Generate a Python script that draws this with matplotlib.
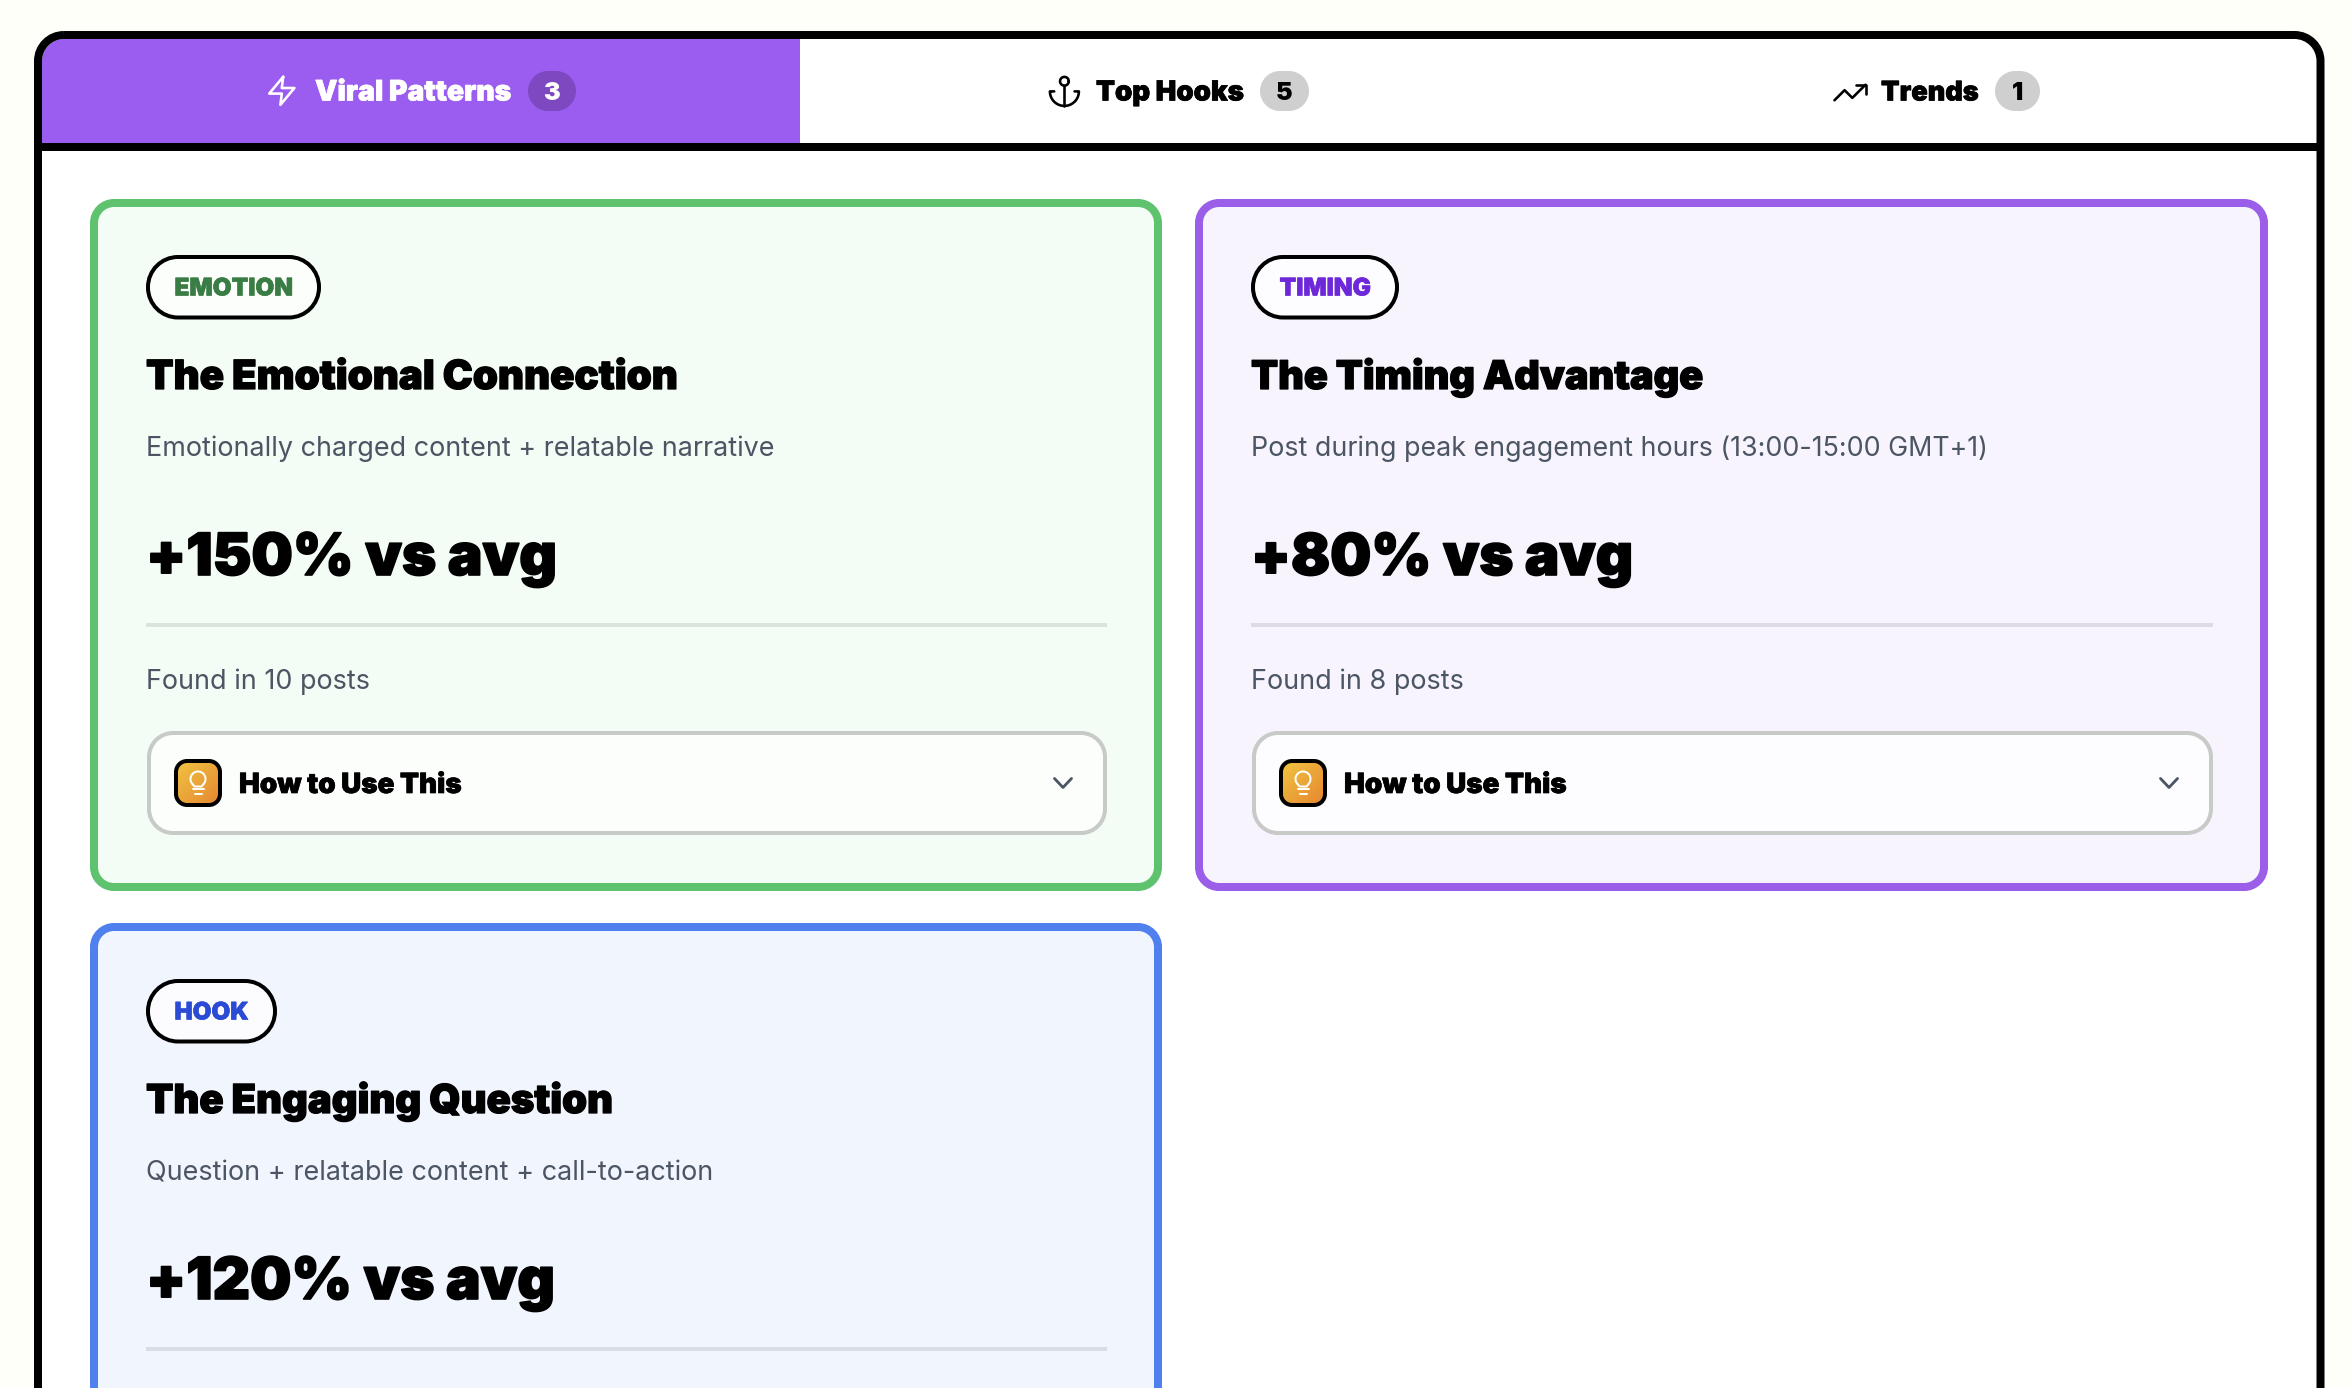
import numpy as np
from matplotlib import pyplot as plt
from matplotlib.patches import PathPatch, Rectangle
from matplotlib.path import Path
from matplotlib.colors import LinearSegmentedColormap
import matplotlib.patheffects as pe

# tabs
tab_names = ["Viral Patterns", "Top Hooks", "Trends"]
tab_counts = ["3", "5", "1"]

# cards
card_tags = ["EMOTION", "TIMING", "HOOK"]
card_titles = ["The Emotional Connection", "The Timing Advantage", "The Engaging Question"]
card_descs = [
    "Emotionally charged content + relatable narrative",
    "Post during peak engagement hours (13:00-15:00 GMT+1)",
    "Question + relatable content + call-to-action",
]
card_metrics = ["+150% vs avg", "+80% vs avg", "+120% vs avg"]
# third card runs off the bottom of the picture before this line
card_found = ["Found in 10 posts", "Found in 8 posts"]

# layout, in pixels of the 2352x1388 picture
tab_text_x = [(315, 512), (1096, 1244), (1881, 1979)]
tab_badge_x = [(528, 576), (1260, 1309), (1995, 2040)]
card_boxes = [(90, 199, 1162, 891), (1195, 199, 2268, 891), (90, 923, 1162, 1615)]
tag_widths = [175, 148, 131]
tag_text_widths = [118, 91, 74]
tag_colors = ["#3a7d44", "#6d28d9", "#2b4bd4"]
title_widths = [533, 453, 468]
desc_widths = [627, 736, 566]
metric_widths = [411, 382, 409]
found_widths = [224, 213]
border_colors = ["#5fc26f", "#9b5ee8", "#4f80ee"]
fill_colors = ["#f3fdf5", "#f7f4fd", "#f1f5fe"]

PX = 0.72  # points per pixel at dpi 100
HEAVY = dict(family=["Inter", "Roboto", "DejaVu Sans"], weight="black")
BODY = dict(family=["Inter", "DejaVu Sans"], weight="normal")
GLASS = (1, 1, 1, 0.8)

fig = plt.figure(figsize=(23.52, 13.88), dpi=100, facecolor="#fffffa")
ax = fig.add_axes([0, 0, 1, 1])
ax.set_xlim(0, 2352)
ax.set_ylim(1388, 0)
ax.axis("off")
renderer = fig.canvas.get_renderer()


def rounded(x0, y0, x1, y1, r, fc, ec="none", lw=0, z=1):
    # circular corners, FancyBboxPatch round comes out too square
    c = r * 0.4477
    verts = [(x0 + r, y0), (x1 - r, y0), (x1 - c, y0), (x1, y0 + c), (x1, y0 + r),
             (x1, y1 - r), (x1, y1 - c), (x1 - c, y1), (x1 - r, y1),
             (x0 + r, y1), (x0 + c, y1), (x0, y1 - c), (x0, y1 - r),
             (x0, y0 + r), (x0, y0 + c), (x0 + c, y0), (x0 + r, y0), (x0 + r, y0)]
    codes = [Path.MOVETO, Path.LINETO, Path.CURVE4, Path.CURVE4, Path.CURVE4,
             Path.LINETO, Path.CURVE4, Path.CURVE4, Path.CURVE4,
             Path.LINETO, Path.CURVE4, Path.CURVE4, Path.CURVE4,
             Path.LINETO, Path.CURVE4, Path.CURVE4, Path.CURVE4, Path.CLOSEPOLY]
    p = PathPatch(Path(verts, codes), fc=fc, ec=ec, lw=lw * PX, zorder=z)
    ax.add_patch(p)
    return p


def fit_text(x, y, s, width, size, color, font, stroke=0.0, z=5):
    t = ax.text(x, y, s, fontsize=size * PX, color=color, ha="left", va="baseline", zorder=z, **font)
    w = t.get_window_extent(renderer).width
    t.set_fontsize(size * PX * width / w)
    if stroke:
        t.set_path_effects([pe.withStroke(linewidth=stroke, foreground=color)])
    return t


def icon_line(xs, ys, ox, oy, k, color, lw=2.6, z=6, closed=False):
    xs = np.asarray(xs, dtype=float) * k + ox
    ys = np.asarray(ys, dtype=float) * k + oy
    if closed:
        xs = np.append(xs, xs[0])
        ys = np.append(ys, ys[0])
    ax.plot(xs, ys, color=color, lw=lw * PX, solid_capstyle="round", solid_joinstyle="round", zorder=z)


# outer frame
inner = rounded(42, 39, 2317, 1700, 22, "white", z=1)
tab_bg = Rectangle((42, 39), 758, 104, fc="#9b5cf0", ec="none", zorder=2)
ax.add_patch(tab_bg)
tab_bg.set_clip_path(inner)
ax.add_patch(Rectangle((42, 143), 2275, 8, fc="black", ec="none", zorder=3))
rounded(38, 35, 2320.5, 1700, 26, "none", ec="black", lw=8, z=4)

# tabs
for i, name in enumerate(tab_names):
    active = i == 0
    col = "white" if active else "black"
    fit_text(tab_text_x[i][0], 100.5, name, tab_text_x[i][1] - tab_text_x[i][0], 29, col, HEAVY, stroke=0.5)
    b0, b1 = tab_badge_x[i]
    rounded(b0, 71, b1, 111, 20, "#7e49c0" if active else "#cfcfcf", z=3)
    ax.text((b0 + b1) / 2, 99.5, tab_counts[i], fontsize=25 * PX, color=col, ha="center", va="baseline",
            zorder=5, **HEAVY)

# tab icons
icon_line([13, 3, 12, 11, 21, 12], [2, 14, 14, 22, 10, 10], 265, 74, 1.4, "white", closed=True)
t = np.linspace(0, 2 * np.pi, 40)
icon_line(12 + 3 * np.cos(t), 5 + 3 * np.sin(t), 1047, 74, 1.45, "black")
icon_line([12, 12], [22, 8], 1047, 74, 1.45, "black")
t = np.linspace(0, np.pi, 40)
arc_x = np.r_[5, 2, 12 - 10 * np.cos(t), 19]
arc_y = np.r_[12, 12, 12 + 10 * np.sin(t), 12]
icon_line(arc_x, arc_y, 1047, 74, 1.45, "black")
icon_line([22, 13.5, 8.5, 2], [7, 15.5, 10.5, 17], 1831.4, 73.9, 1.55, "black")
icon_line([16, 22, 22], [7, 7, 13], 1831.4, 73.9, 1.55, "black")

grad = LinearSegmentedColormap.from_list("bulb", ["#f0c843", "#e6832f"])

# cards
for i, tag in enumerate(card_tags):
    x0, y0, x1, y1 = card_boxes[i]
    left = x0 + 56
    right = x1 - 55
    rounded(x0 + 4, y0 + 4, x1 - 4, y1 - 4, 20, fill_colors[i], ec=border_colors[i], lw=8, z=2)

    # tag pill
    rounded(left + 2, y0 + 58, left + tag_widths[i] - 2, y0 + 118.5, 30, GLASS, ec="black", lw=4, z=3)
    fit_text(left + (tag_widths[i] - tag_text_widths[i]) / 2, y0 + 96.5, tag, tag_text_widths[i], 25,
             tag_colors[i], HEAVY, stroke=0.4)

    fit_text(left, y0 + 190, card_titles[i], title_widths[i], 40, "black", HEAVY, stroke=0.9)
    fit_text(left, y0 + 257, card_descs[i], desc_widths[i], 27, "#4b5563", BODY)
    fit_text(left, y0 + 376, card_metrics[i], metric_widths[i], 60, "black", HEAVY, stroke=1.2)

    ax.add_patch(Rectangle((left, y0 + 424), right - left, 4, fc=(0, 0, 0, 0.1), ec="none", zorder=3))

    if i >= len(card_found):
        continue

    fit_text(left, y0 + 490, card_found[i], found_widths[i], 27, "#4b5563", BODY)

    # how to use row
    rounded(left + 3, y0 + 534, right - 2, y0 + 634, 24, GLASS, ec="#c8cac8", lw=4, z=3)
    ix0, iy0 = left + 28, y0 + 560
    rounded(ix0 + 2, iy0 + 2, ix0 + 46, iy0 + 46, 11, "none", ec="black", lw=4, z=5)
    clip = rounded(ix0 + 2, iy0 + 2, ix0 + 46, iy0 + 46, 11, "none", z=3)
    ramp = np.linspace(0, 1, 64)
    img = ax.imshow(np.add.outer(ramp, ramp) / 2, cmap=grad, extent=(ix0, ix0 + 48, iy0 + 48, iy0),
                    aspect="auto", zorder=4)
    img.set_clip_path(clip)
    ax.set_xlim(0, 2352)
    ax.set_ylim(1388, 0)

    # bulb
    cx = ix0 + 24
    tb = np.linspace(-np.pi * 1.25, np.pi * 0.25, 40)
    icon_line(cx + 7.5 * np.cos(tb), iy0 + 20 + 7.5 * np.sin(tb), 0, 0, 1, "white", lw=2)
    icon_line([cx - 5.3, cx - 3.5, cx + 3.5, cx + 5.3],
              [iy0 + 25.3, iy0 + 27.5, iy0 + 27.5, iy0 + 25.3], 0, 0, 1, "white", lw=2)
    icon_line([cx - 5.5, cx + 5.5], [iy0 + 30, iy0 + 30], 0, 0, 1, "white", lw=2)
    icon_line([cx - 3.5, cx + 3.5], [iy0 + 35, iy0 + 35], 0, 0, 1, "white", lw=2)

    fit_text(left + 93, y0 + 594, "How to Use This", 223, 28, "black", HEAVY, stroke=0.5)

    # chevron
    chx = right - 44
    ax.plot([chx - 8.5, chx, chx + 8.5], [y0 + 579.5, y0 + 588.5, y0 + 579.5], color="#4b5563", lw=2.8 * PX,
            solid_capstyle="round", solid_joinstyle="round", zorder=5)

fig.savefig("out.png", dpi=100, facecolor=fig.get_facecolor())
